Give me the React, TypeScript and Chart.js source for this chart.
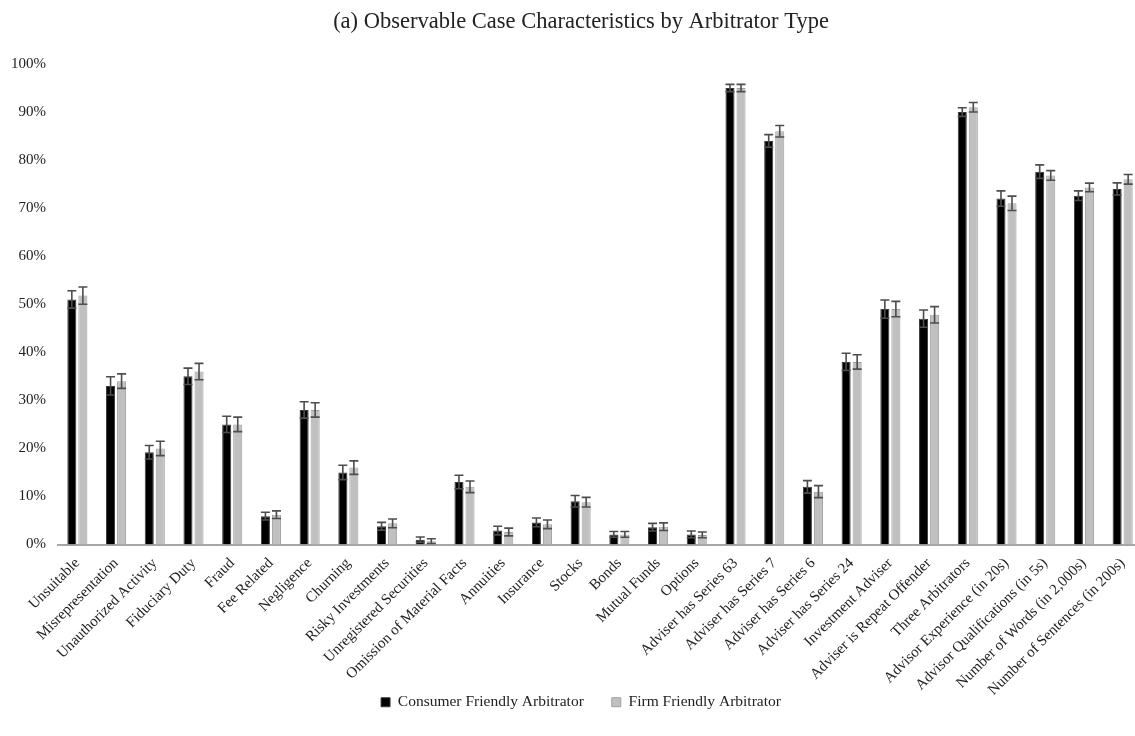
import React, { useEffect, useRef } from "react";
import { Chart, registerables } from "chart.js";

Chart.register(...registerables);

const titleText = "(a) Observable Case Characteristics by Arbitrator Type";

const categories = [
  "Unsuitable",
  "Misrepresentation",
  "Unauthorized Activity",
  "Fiduciary Duty",
  "Fraud",
  "Fee Related",
  "Negligence",
  "Churning",
  "Risky Investments",
  "Unregistered Securities",
  "Omission of Material Facts",
  "Annuities",
  "Insurance",
  "Stocks",
  "Bonds",
  "Mutual Funds",
  "Options",
  "Adviser has Series 63",
  "Adviser has Series 7",
  "Adviser has Series 6",
  "Adviser has Series 24",
  "Investment Adviser",
  "Adviser is Repeat Offender",
  "Three Arbitrators",
  "Advisor Experience (in 20s)",
  "Advisor Qualifications (in 5s)",
  "Number of Words (in 2,000s)",
  "Number of Sentences (in 200s)",
];

const seriesNames = ["Consumer Friendly Arbitrator", "Firm Friendly Arbitrator"];

const consumerValues = [
  51, 33, 19.2, 35, 25, 5.9, 28, 15, 3.8, 1.0, 13, 2.9, 4.6, 9.0, 2.1, 3.6, 2.1,
  95, 84, 12, 38, 49, 47, 90, 72, 77.6, 72.6, 74,
];
const firmValues = [
  51.8, 34, 20, 36, 25, 6.2, 28, 16, 4.4, 0.7, 12, 2.6, 4.2, 8.8, 2.1, 3.7, 2.0,
  95, 86, 11, 38, 49, 47.8, 91, 71, 76.8, 74.3, 76,
];
const consumerErrors = [
  1.8, 1.9, 1.4, 1.7, 1.7, 0.8, 1.7, 1.5, 0.8, 0.55, 1.4, 0.9, 0.9, 1.2, 0.6, 0.8, 0.7,
  0.75, 1.3, 1.3, 1.8, 1.9, 1.8, 0.9, 1.6, 1.4, 1.0, 1.25,
];
const firmErrors = [
  1.8, 1.5, 1.5, 1.7, 1.5, 0.8, 1.5, 1.4, 0.9, 0.5, 1.2, 0.8, 0.9, 1.0, 0.6, 0.8, 0.6,
  0.75, 1.2, 1.25, 1.5, 1.6, 1.7, 1.0, 1.5, 1.0, 0.9, 1.0,
];

const yMin = 0;
const yMax = 100;
const yStep = 10;

const errorBarPlugin = {
  id: "errorBars",
  afterLayout(chart: any) {
    // let the rotated category labels extend below the x-scale box without clipping
    const xs = chart.scales.x;
    if (xs) xs.bottom = chart.height;
  },
  afterDatasetsDraw(chart: any) {
    const ctx = chart.ctx;
    const yScale = chart.scales.y;
    chart.data.datasets.forEach((ds: any, i: number) => {
      const meta = chart.getDatasetMeta(i);
      const errs: number[] = ds.errors || [];
      meta.data.forEach((bar: any, j: number) => {
        const v = ds.data[j];
        const e = errs[j];
        if (v == null || e == null) return;
        const top = yScale.getPixelForValue(v + e);
        const bot = yScale.getPixelForValue(Math.max(0, v - e));
        const x = bar.x;
        const cap = 4.5;
        ctx.save();
        ctx.strokeStyle = "#4d4d4d";
        ctx.lineWidth = 1.6;
        ctx.beginPath();
        ctx.moveTo(x, top);
        ctx.lineTo(x, bot);
        ctx.moveTo(x - cap, top);
        ctx.lineTo(x + cap, top);
        ctx.moveTo(x - cap, bot);
        ctx.lineTo(x + cap, bot);
        ctx.stroke();
        ctx.restore();
      });
    });
  },
};

function App() {
  const canvasRef = useRef<HTMLCanvasElement | null>(null);

  useEffect(() => {
    if (!canvasRef.current) return;
    const serif = "'Liberation Serif', 'Times New Roman', serif";
    const chart = new Chart(canvasRef.current, {
      type: "bar",
      data: {
        labels: categories,
        datasets: [
          {
            label: seriesNames[0],
            data: consumerValues,
            errors: consumerErrors,
            backgroundColor: "#000000",
            borderColor: "#3a3a3a",
            borderWidth: 1,
            categoryPercentage: 0.57,
            barPercentage: 0.82,
          } as any,
          {
            label: seriesNames[1],
            data: firmValues,
            errors: firmErrors,
            backgroundColor: "#c0c0c0",
            borderColor: "#a0a0a0",
            borderWidth: 1,
            categoryPercentage: 0.57,
            barPercentage: 0.82,
          } as any,
        ],
      },
      options: {
        responsive: false,
        animation: false,
        maintainAspectRatio: false,
        layout: { padding: { top: 0, right: 0, bottom: 16, left: 0 } },
        plugins: {
          title: {
            display: true,
            text: titleText,
            color: "#222222",
            font: { family: serif, size: 22.5, weight: "normal" },
            padding: { top: 9, bottom: 28 },
          },
          legend: {
            position: "bottom",
            labels: {
              boxWidth: 9,
              boxHeight: 9,
              padding: 28,
              color: "#222222",
              font: { family: serif, size: 15.5 },
            },
          },
          tooltip: { enabled: false },
        },
        scales: {
          x: {
            grid: { display: false, drawTicks: false },
            border: { display: true, color: "#a6a6a6", width: 2 },
            ticks: {
              color: "#222222",
              font: { family: serif, size: 15 },
              maxRotation: 45,
              minRotation: 45,
              autoSkip: false,
              padding: 10,
            },
            afterFit: (scale: any) => {
              scale.height = 122;
            },
          },
          y: {
            min: yMin,
            max: yMax,
            grid: { display: false, drawTicks: false },
            border: { display: false },
            ticks: {
              stepSize: yStep,
              color: "#222222",
              font: { family: serif, size: 15 },
              padding: 12,
              callback: (v: any) => `${v}%`,
            },
            afterFit: (scale: any) => {
              scale.width = 58;
            },
          },
          yRightSpace: {
            position: "right",
            display: true,
            grid: { display: false, drawTicks: false },
            border: { display: false },
            ticks: { display: false },
            afterFit: (scale: any) => {
              scale.width = 20;
            },
          },
        },
      } as any,
      plugins: [errorBarPlugin],
    });
    return () => chart.destroy();
  }, []);

  return (
    <div
      style={{
        position: "fixed",
        left: 0,
        top: 0,
        width: 1135,
        height: 736,
        overflow: "hidden",
        background: "#ffffff",
      }}
    >
      <canvas ref={canvasRef} width={1162} height={736} style={{ display: "block" }} />
    </div>
  );
}

export default App;
